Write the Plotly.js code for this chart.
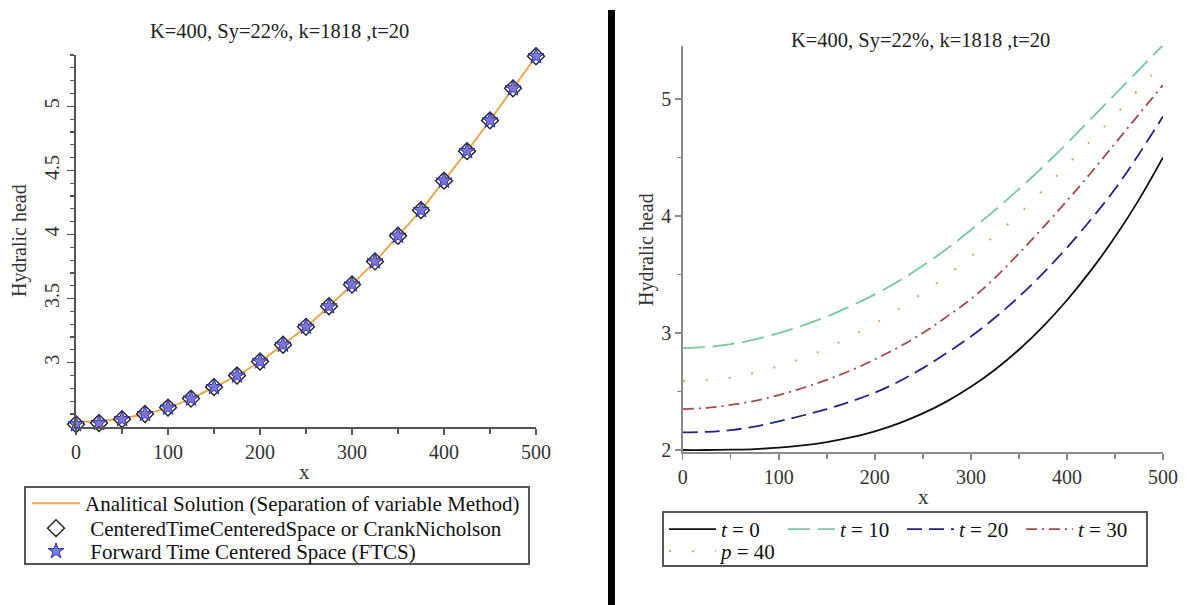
<!DOCTYPE html>
<html>
<head>
<meta charset="utf-8">
<script src="https://cdn.plot.ly/plotly-3.0.1.min.js"></script>
<style>
  html, body { margin: 0; padding: 0; background: #ffffff; overflow: hidden; }
  #chart { width: 1187px; height: 605px; overflow: hidden; }
</style>
</head>
<body>
<div id="chart"></div>
<script>
// ---------- data (left panel) ----------
const chartTitle = "K=400, Sy=22%, k=1818 ,t=20";
const xNodes = [0, 25, 50, 75, 100, 125, 150, 175, 200, 225, 250, 275, 300, 325, 350, 375, 400, 425, 450, 475, 500];
const analytic = [2.54, 2.545, 2.565, 2.60, 2.65, 2.72, 2.81, 2.90, 3.01, 3.14, 3.28, 3.44, 3.61, 3.79, 3.99, 4.19, 4.42, 4.65, 4.89, 5.14, 5.39];
const ctcs     = [2.52, 2.53, 2.56, 2.60, 2.65, 2.72, 2.81, 2.90, 3.01, 3.14, 3.28, 3.44, 3.61, 3.79, 3.99, 4.19, 4.42, 4.65, 4.89, 5.14, 5.39];
const ftcs     = [2.52, 2.53, 2.56, 2.60, 2.65, 2.72, 2.81, 2.90, 3.01, 3.14, 3.28, 3.44, 3.61, 3.79, 3.99, 4.19, 4.42, 4.65, 4.89, 5.14, 5.39];
const leftNames = [
  "Analitical Solution (Separation of variable Method)",
  "&nbsp;CenteredTimeCenteredSpace or CrankNicholson",
  "&nbsp;Forward Time Centered Space (FTCS)"
];

// ---------- data (right panel) ----------
const xRight  = [0, 25, 50, 75, 100, 125, 150, 175, 200, 225, 250, 275, 300, 325, 350, 375, 400, 425, 450, 475, 500];
const headT0  = [2.00, 2.00, 2.003, 2.008, 2.02, 2.04, 2.068, 2.107, 2.16, 2.228, 2.313, 2.416, 2.54, 2.686, 2.857, 3.055, 3.28, 3.535, 3.82, 4.14, 4.50];
const headT10 = [2.87, 2.88, 2.905, 2.945, 3.00, 3.065, 3.14, 3.23, 3.33, 3.445, 3.575, 3.72, 3.88, 4.05, 4.23, 4.42, 4.62, 4.83, 5.04, 5.25, 5.46];
const headT20 = [2.15, 2.155, 2.17, 2.20, 2.245, 2.295, 2.35, 2.415, 2.49, 2.585, 2.70, 2.83, 2.97, 3.13, 3.31, 3.51, 3.73, 3.97, 4.23, 4.53, 4.85];
const headT30 = [2.35, 2.36, 2.385, 2.42, 2.47, 2.53, 2.60, 2.68, 2.775, 2.88, 3.00, 3.14, 3.29, 3.47, 3.68, 3.90, 4.13, 4.37, 4.62, 4.87, 5.12];
const headP40 = [2.59, 2.597, 2.617, 2.66, 2.717, 2.785, 2.87, 2.97, 3.08, 3.205, 3.345, 3.49, 3.655, 3.835, 4.015, 4.22, 4.435, 4.645, 4.86, 5.085, 5.31];
const rightNames = ["<i>t</i> = 0", "<i>t</i> = 10", "<i>t</i> = 20", "<i>t</i> = 30", "<i>p</i> = 40"];

const axisLabelX = "x";
const axisLabelY = "Hydralic head";

// ---------- layout helpers ----------
const W = 1187, H = 605;
const px = v => v / W;
const py = v => (H - v) / H;
const serif = "Liberation Serif, Times New Roman, serif";

const traces = [
  { x: xNodes, y: analytic, name: leftNames[0], type: "scatter", mode: "lines",
    line: { color: "rgb(232,170,80)", width: 2, shape: "spline" },
    xaxis: "x", yaxis: "y", legend: "legend" },
  { x: xNodes, y: ctcs, name: leftNames[1], type: "scatter", mode: "markers",
    marker: { symbol: "diamond-open", size: 13, color: "#222", line: { width: 1.4, color: "#222" } },
    cliponaxis: false, xaxis: "x", yaxis: "y", legend: "legend4" },
  { x: xNodes, y: ftcs, name: leftNames[2], type: "scatter", mode: "markers",
    marker: { symbol: "star", size: 12, color: "rgba(100,100,220,0.85)", line: { width: 1, color: "#3030a8" } },
    cliponaxis: false, xaxis: "x", yaxis: "y", legend: "legend5" },

  { x: xRight, y: headT0, name: rightNames[0], type: "scatter", mode: "lines",
    line: { color: "#111111", width: 1.8, shape: "spline" },
    xaxis: "x2", yaxis: "y2", legend: "legend2" },
  { x: xRight, y: headT10, name: rightNames[1], type: "scatter", mode: "lines",
    line: { color: "rgb(120,200,160)", width: 1.8, dash: "22px,8px", shape: "spline" },
    xaxis: "x2", yaxis: "y2", legend: "legend2" },
  { x: xRight, y: headT20, name: rightNames[2], type: "scatter", mode: "lines",
    line: { color: "rgb(35,35,140)", width: 1.8, dash: "15px,7px", shape: "spline" },
    xaxis: "x2", yaxis: "y2", legend: "legend2" },
  { x: xRight, y: headT30, name: rightNames[3], type: "scatter", mode: "lines",
    line: { color: "rgb(165,75,75)", width: 1.8, dash: "11px,5px,2px,5px", shape: "spline" },
    xaxis: "x2", yaxis: "y2", legend: "legend2" },
  { x: xRight, y: headP40, name: rightNames[4], type: "scatter", mode: "lines",
    line: { color: "rgb(236,160,100)", width: 2, dash: "2px,21px", shape: "spline" },
    xaxis: "x2", yaxis: "y2", legend: "legend3" }
];

const leftAxisColor = "#555555";
const rightAxisColor = "#8a8a8a";

function itemLegend(xp, yp, size, extra) {
  return Object.assign({
    x: px(xp), y: py(yp), xanchor: "left", yanchor: "top",
    bgcolor: "rgba(0,0,0,0)", borderwidth: 0,
    font: { family: serif, size: size, color: "#111" }
  }, extra || {});
}

const layout = {
  width: W, height: H,
  margin: { l: 0, r: 0, t: 0, b: 0, pad: 0 },
  paper_bgcolor: "#ffffff", plot_bgcolor: "#ffffff",
  font: { family: serif, color: "#333" },
  xaxis: {
    domain: [px(76), px(536)], range: [0, 500], anchor: "y",
    showgrid: false, zeroline: false, showline: true, linecolor: leftAxisColor, linewidth: 2,
    ticks: "outside", ticklen: 6, tickwidth: 1.5, tickcolor: leftAxisColor, dtick: 100, tick0: 0,
    minor: { dtick: 50, ticks: "outside", ticklen: 5, tickcolor: leftAxisColor, tickwidth: 1.5 },
    tickfont: { family: serif, size: 20, color: "#333" }
  },
  yaxis: {
    domain: [py(426.7), py(55)], range: [2.501, 5.4], anchor: "x",
    showgrid: false, zeroline: false, showline: true, linecolor: leftAxisColor, linewidth: 2,
    ticks: "outside", ticklen: 7, tickwidth: 1.5, tickcolor: leftAxisColor, dtick: 0.5, tick0: 0,
    minor: { dtick: 0.1, ticks: "outside", ticklen: 4, tickcolor: leftAxisColor, tickwidth: 1.2 },
    tickangle: -90,
    tickfont: { family: serif, size: 20, color: "#333" }
  },
  xaxis2: {
    domain: [px(682.7), px(1163)], range: [0, 500], anchor: "y2",
    showgrid: false, zeroline: false, showline: true, linecolor: rightAxisColor, linewidth: 1.5,
    ticks: "outside", ticklen: 6, tickwidth: 1.5, tickcolor: rightAxisColor, dtick: 100, tick0: 0,
    minor: { dtick: 50, ticks: "outside", ticklen: 5, tickcolor: rightAxisColor, tickwidth: 1.5 },
    tickfont: { family: serif, size: 20, color: "#333" }
  },
  yaxis2: {
    domain: [py(452), py(46)], range: [1.983, 5.453], anchor: "x2",
    showgrid: false, zeroline: false, showline: true, linecolor: rightAxisColor, linewidth: 1.5,
    ticks: "outside", ticklen: 6, tickwidth: 1.5, tickcolor: rightAxisColor, dtick: 1, tick0: 0,
    minor: { dtick: 0.5, ticks: "outside", ticklen: 4, tickcolor: rightAxisColor, tickwidth: 1.2 },
    tickfont: { family: serif, size: 20, color: "#333" }
  },
  legend:  itemLegend(27, 483, 21, { orientation: "v", itemwidth: 48 }),
  legend4: itemLegend(27, 508, 21, { orientation: "v", itemwidth: 48 }),
  legend5: itemLegend(27, 531, 21, { orientation: "v", itemwidth: 48 }),
  legend2: itemLegend(664, 509, 21, { orientation: "h", itemwidth: 47, entrywidth: 57 }),
  legend3: itemLegend(664, 531, 21, { orientation: "h", itemwidth: 47, entrywidth: 57 }),
  showlegend: true,
  annotations: [
    { text: chartTitle, x: px(279), y: py(32), xref: "paper", yref: "paper",
      xanchor: "center", yanchor: "middle", showarrow: false,
      font: { family: serif, size: 20.5, color: "#222" } },
    { text: chartTitle, x: px(920), y: py(40), xref: "paper", yref: "paper",
      xanchor: "center", yanchor: "middle", showarrow: false,
      font: { family: serif, size: 20.5, color: "#222" } },
    { text: axisLabelX, x: px(305), y: py(472), xref: "paper", yref: "paper",
      xanchor: "center", yanchor: "middle", showarrow: false,
      font: { family: serif, size: 21, color: "#333" } },
    { text: axisLabelX, x: px(923), y: py(497), xref: "paper", yref: "paper",
      xanchor: "center", yanchor: "middle", showarrow: false,
      font: { family: serif, size: 21, color: "#333" } },
    { text: axisLabelY, x: px(20), y: py(241), xref: "paper", yref: "paper",
      xanchor: "center", yanchor: "middle", showarrow: false, textangle: -90,
      font: { family: serif, size: 20, color: "#333" } },
    { text: axisLabelY, x: px(647), y: py(250), xref: "paper", yref: "paper",
      xanchor: "center", yanchor: "middle", showarrow: false, textangle: -90,
      font: { family: serif, size: 20, color: "#333" } }
  ],
  shapes: [
    { type: "rect", xref: "paper", yref: "paper",
      x0: px(608), x1: px(615), y0: 0, y1: py(10),
      fillcolor: "#000000", line: { width: 0 } },
    { type: "rect", xref: "paper", yref: "paper",
      x0: px(25), x1: px(529), y0: py(564), y1: py(487),
      fillcolor: "rgba(0,0,0,0)", line: { width: 2, color: "#555" } },
    { type: "rect", xref: "paper", yref: "paper",
      x0: px(663), x1: px(1147), y0: py(566), y1: py(512),
      fillcolor: "rgba(0,0,0,0)", line: { width: 2, color: "#555" } }
  ]
};

Plotly.newPlot("chart", traces, layout, { displayModeBar: false, staticPlot: true });
</script>
</body>
</html>
